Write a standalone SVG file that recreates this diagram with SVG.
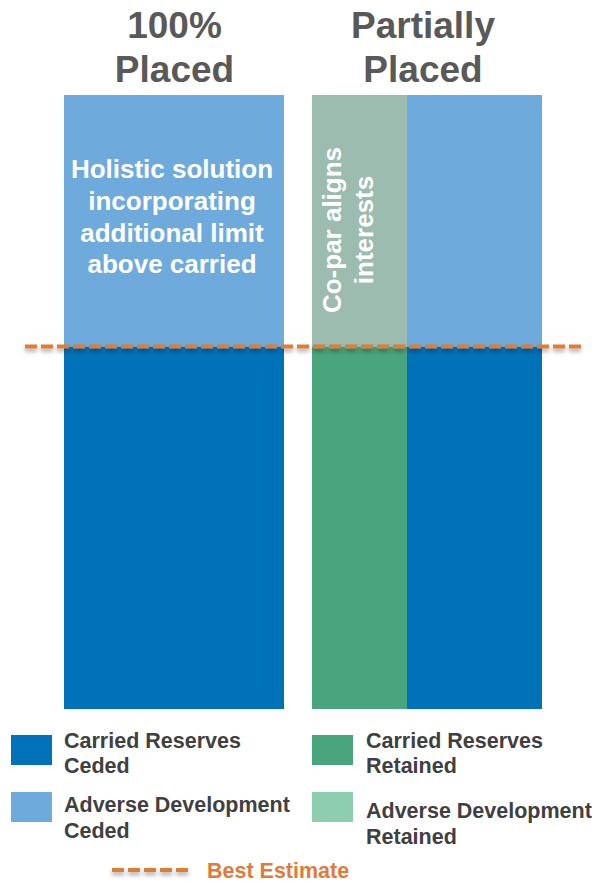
<svg xmlns="http://www.w3.org/2000/svg" width="595" height="883" viewBox="0 0 595 883">
  <defs>
    <filter id="sh" filterUnits="userSpaceOnUse" x="0" y="0" width="595" height="883">
      <feDropShadow dx="0" dy="3" stdDeviation="2" flood-color="#000" flood-opacity="0.35"/>
    </filter>
    <style>
      .title { font-family: "Liberation Sans", Arial, sans-serif; font-weight: bold; font-size: 37px; fill: #595959; text-anchor: middle; }
      .inbar { font-family: "Liberation Sans", Arial, sans-serif; font-weight: bold; font-size: 26px; fill: #ffffff; text-anchor: middle; }
      .leg { font-family: "Liberation Sans", Arial, sans-serif; font-weight: bold; font-size: 21.5px; fill: #404040; }
      .best { font-family: "Liberation Sans", Arial, sans-serif; font-weight: bold; font-size: 21.5px; fill: #E07B39; }
      .dash { stroke: #E07B39; stroke-width: 4; stroke-dasharray: 12 4; fill: none; }
      .dblue { fill: #0072BA; }
      .lblue { fill: #6EAADC; }
      .dgreen { fill: #49A57E; }
      .mgreen { fill: #9BBCAE; }
      .lgreen { fill: #8FCDB1; }
    </style>
  </defs>
  <rect width="595" height="883" fill="#ffffff"/>

  <g id="title-100">
    <text class="title" x="174.5" y="38">100%</text>
    <text class="title" x="174.5" y="82">Placed</text>
  </g>
  <g id="title-partial">
    <text class="title" x="423" y="38">Partially</text>
    <text class="title" x="423" y="82">Placed</text>
  </g>

  <g id="bar-100">
    <rect class="lblue" x="64" y="95" width="220" height="252"/>
    <rect class="dblue" x="64" y="347" width="220" height="362"/>
    <text class="inbar" x="172" y="178">Holistic solution</text>
    <text class="inbar" x="172" y="210">incorporating</text>
    <text class="inbar" x="172" y="242">additional limit</text>
    <text class="inbar" x="172" y="273">above carried</text>
  </g>

  <g id="bar-partial">
    <rect class="mgreen" x="312" y="95" width="95" height="252"/>
    <rect class="dgreen" x="312" y="347" width="95" height="362"/>
    <rect class="lblue" x="407" y="95" width="135" height="252"/>
    <rect class="dblue" x="407" y="347" width="135" height="362"/>
    <text class="inbar" transform="translate(341,230) rotate(-90)" x="0" y="0">Co-par aligns</text>
    <text class="inbar" transform="translate(373,230) rotate(-90)" x="0" y="0">interests</text>
  </g>

  <g id="connectors">
    <line id="best-estimate-line" class="dash" x1="25" y1="346.5" x2="585" y2="346.5" filter="url(#sh)"/>
  </g>

  <g id="legend-carried-ceded">
    <rect class="dblue" x="11" y="735" width="41" height="30"/>
    <text class="leg" x="64" y="748">Carried Reserves</text>
    <text class="leg" x="64" y="773">Ceded</text>
  </g>
  <g id="legend-adverse-ceded">
    <rect class="lblue" x="11" y="792" width="41" height="30"/>
    <text class="leg" x="64" y="812">Adverse Development</text>
    <text class="leg" x="64" y="838">Ceded</text>
  </g>
  <g id="legend-carried-retained">
    <rect class="dgreen" x="312" y="735" width="41" height="30"/>
    <text class="leg" x="366" y="748">Carried Reserves</text>
    <text class="leg" x="366" y="773">Retained</text>
  </g>
  <g id="legend-adverse-retained">
    <rect class="lgreen" x="312" y="792" width="41" height="30"/>
    <text class="leg" x="366" y="818">Adverse Development</text>
    <text class="leg" x="366" y="844">Retained</text>
  </g>
  <g id="legend-best-estimate">
    <line class="dash" x1="112" y1="870" x2="188" y2="870" filter="url(#sh)"/>
    <text class="best" x="207" y="878">Best Estimate</text>
  </g>
</svg>
